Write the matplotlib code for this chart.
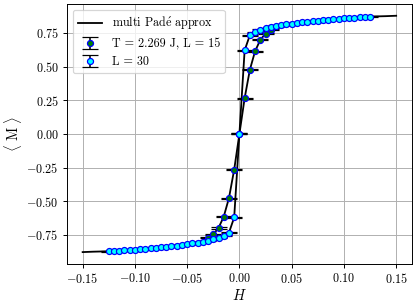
import matplotlib
matplotlib.use('Agg')
import matplotlib.pyplot as plt
import numpy as np

plt.rcParams['font.family'] = 'serif'
plt.rcParams['font.serif'] = ['cmr10', 'DejaVu Serif']
plt.rcParams['mathtext.fontset'] = 'cm'
plt.rcParams['axes.formatter.use_mathtext'] = True
plt.rcParams['font.size'] = 10

# L = 30 data (positive branch, mirrored for H < 0)
H30_pos = [0.005, 0.010, 0.015, 0.020, 0.025, 0.030, 0.035, 0.040, 0.045,
           0.050, 0.055, 0.060, 0.065, 0.070, 0.075, 0.080, 0.085, 0.090,
           0.095, 0.100, 0.105, 0.110, 0.115, 0.120, 0.125]
M30_pos = [0.620, 0.733, 0.755, 0.771, 0.783, 0.793, 0.801, 0.807, 0.813,
           0.819, 0.824, 0.829, 0.833, 0.837, 0.841, 0.845, 0.848, 0.852,
           0.855, 0.858, 0.861, 0.863, 0.866, 0.868, 0.871]
err30 = 0.004

# L = 15 data
H15_pos = [0.005, 0.010, 0.015, 0.020, 0.025, 0.030]
M15_pos = [0.265, 0.476, 0.614, 0.698, 0.745, 0.772]
err15 = 0.004

# multi Pade curve ends
pade_H_end = [0.140, 0.150]
pade_M_end = [0.874, 0.877]

H30 = np.array([-h for h in H30_pos[::-1]] + [0.0] + H30_pos)
M30 = np.array([-m for m in M30_pos[::-1]] + [0.0] + M30_pos)
H15 = np.array([-h for h in H15_pos[::-1]] + [0.0] + H15_pos)
M15 = np.array([-m for m in M15_pos[::-1]] + [0.0] + M15_pos)

pade30_H = np.concatenate([[-h for h in pade_H_end[::-1]], H30, pade_H_end])
pade30_M = np.concatenate([[-m for m in pade_M_end[::-1]], M30, pade_M_end])

fig = plt.figure(figsize=(416 / 87, 303 / 87), dpi=87)
ax = fig.add_axes([0.161, 0.129, 0.829, 0.858])

ax.plot(pade30_H, pade30_M, 'k-', lw=1.5, label=r'multi Pad$\acute{\mathrm{e}}$ approx')
ax.plot(H15, M15, 'k-', lw=1.5)

ax.errorbar(H15, M15, yerr=err15, fmt='o', color='green', mfc='green', mec='blue',
            ms=5, mew=1.0, ecolor='black', elinewidth=1.3, capsize=6.5, capthick=1.3,
            label='T = 2.269 J, L = 15')
ax.errorbar(H30, M30, yerr=err30, fmt='o', color='cyan', mfc='cyan', mec='blue',
            ms=5, mew=1.0, ecolor='black', elinewidth=1.3, capsize=6.5, capthick=1.3,
            label='L = 30')

ax.set_xticks([-0.15, -0.10, -0.05, 0.00, 0.05, 0.10, 0.15])
ax.set_yticks([-0.75, -0.50, -0.25, 0.00, 0.25, 0.50, 0.75])
ax.xaxis.set_major_formatter(matplotlib.ticker.FormatStrFormatter(r'$%.2f$'))
ax.yaxis.set_major_formatter(matplotlib.ticker.FormatStrFormatter(r'$%.2f$'))
ax.grid(True, color='#b0b0b0', lw=0.8)
ax.set_axisbelow(True)
ax.set_xlabel(r'$H$', fontsize=12, labelpad=1)
ax.set_ylabel(r'$\langle\ \mathrm{M}\ \rangle$', fontsize=12, labelpad=2)
ax.legend(loc='upper left')

fig.savefig('out.png', dpi=87)
